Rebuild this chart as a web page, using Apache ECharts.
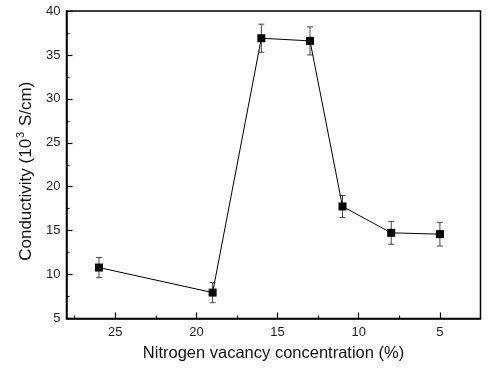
<!DOCTYPE html>
<html>
<head>
<meta charset="utf-8">
<script src="https://cdn.jsdelivr.net/npm/echarts@6/dist/echarts.min.js"></script>
<style>
html,body{margin:0;padding:0;background:#fff;}
#chart{width:488px;height:370px;}
</style>
</head>
<body>
<div id="chart"></div>
<script>
const xVals = [26, 19, 16, 13, 11, 8, 5];
const yVals = [10.8, 7.95, 36.9, 36.6, 17.75, 14.75, 14.6];
const yErr = [1.15, 1.15, 1.6, 1.6, 1.25, 1.3, 1.35];
const xMajorTicks = [5, 10, 15, 20, 25];
const xMinorTicks = [7.5, 12.5, 17.5, 22.5, 27.5];
const xTitle = 'Nitrogen vacancy concentration (%)';
const yTitleParts = ['Conductivity (10', '3', ' S/cm)'];

const pts = xVals.map((x, i) => [x, yVals[i]]);
const errData = xVals.map((x, i) => [x, yVals[i] - yErr[i], yVals[i] + yErr[i]]);

const FONT = 'Liberation Sans, Arial, sans-serif';
const chart = echarts.init(document.getElementById('chart'));
chart.setOption({
  animation: false,
  backgroundColor: '#fff',
  grid: {
    left: 66.5, top: 11, right: 7.5, bottom: 51.5,
    show: true, borderColor: '#000', borderWidth: 1.5, backgroundColor: 'transparent'
  },
  xAxis: [{
    type: 'value', min: 2.5, max: 28, inverse: true, position: 'bottom',
    axisLine: { show: true, lineStyle: { color: '#000', width: 1.5 } },
    axisTick: { show: true, inside: true, length: 6, customValues: xMajorTicks, lineStyle: { color: '#000', width: 1.2 } },
    axisLabel: { show: true, customValues: xMajorTicks, color: '#222', fontSize: 13, fontFamily: FONT, margin: 7 },
    splitLine: { show: false },
    name: xTitle, nameLocation: 'middle', nameGap: 26,
    nameTextStyle: { color: '#111', fontSize: 16.5, fontFamily: FONT }
  }, {
    type: 'value', min: 2.5, max: 28, inverse: true, position: 'bottom', gridIndex: 0,
    axisLine: { show: false },
    axisTick: { show: true, inside: true, length: 3, customValues: xMinorTicks, lineStyle: { color: '#000', width: 1.2 } },
    axisLabel: { show: false },
    splitLine: { show: false }
  }],
  yAxis: {
    type: 'value', min: 5, max: 40, interval: 5,
    axisLine: { show: true, lineStyle: { color: '#000', width: 1.5 } },
    axisTick: { show: true, inside: true, length: 6, lineStyle: { color: '#000', width: 1.2 } },
    minorTick: { show: true, splitNumber: 2, length: 3, lineStyle: { color: '#000', width: 1.2 } },
    axisLabel: { color: '#222', fontSize: 13, fontFamily: FONT, margin: 6 },
    splitLine: { show: false },
    name: '{a|' + yTitleParts[0] + '}{s|' + yTitleParts[1] + '}{a|' + yTitleParts[2] + '}',
    nameLocation: 'middle', nameGap: 29,
    nameTextStyle: {
      color: '#111', fontSize: 17, fontFamily: FONT,
      padding: [0, 13, 0, 0],
      rich: {
        a: { color: '#111', fontSize: 17, fontFamily: FONT, lineHeight: 20, verticalAlign: 'bottom' },
        s: { color: '#111', fontSize: 11, fontFamily: FONT, lineHeight: 11, verticalAlign: 'top', padding: [0, 1, 0, 1] }
      }
    }
  },
  series: [{
    type: 'custom',
    xAxisIndex: 0,
    data: errData,
    z: 2,
    renderItem: function (params, api) {
      const x = api.value(0);
      const lo = api.coord([x, api.value(1)]);
      const hi = api.coord([x, api.value(2)]);
      const cw = 3;
      const style = { stroke: '#444', lineWidth: 1, fill: null };
      return {
        type: 'group',
        children: [
          { type: 'line', shape: { x1: lo[0], y1: lo[1], x2: hi[0], y2: hi[1] }, style: style },
          { type: 'line', shape: { x1: lo[0] - cw, y1: lo[1], x2: lo[0] + cw, y2: lo[1] }, style: style },
          { type: 'line', shape: { x1: hi[0] - cw, y1: hi[1], x2: hi[0] + cw, y2: hi[1] }, style: style }
        ]
      };
    }
  }, {
    type: 'line',
    xAxisIndex: 0,
    data: pts,
    z: 3,
    symbol: 'rect', symbolSize: 8,
    lineStyle: { color: '#000', width: 1 },
    itemStyle: { color: '#000' }
  }]
});
</script>
</body>
</html>
